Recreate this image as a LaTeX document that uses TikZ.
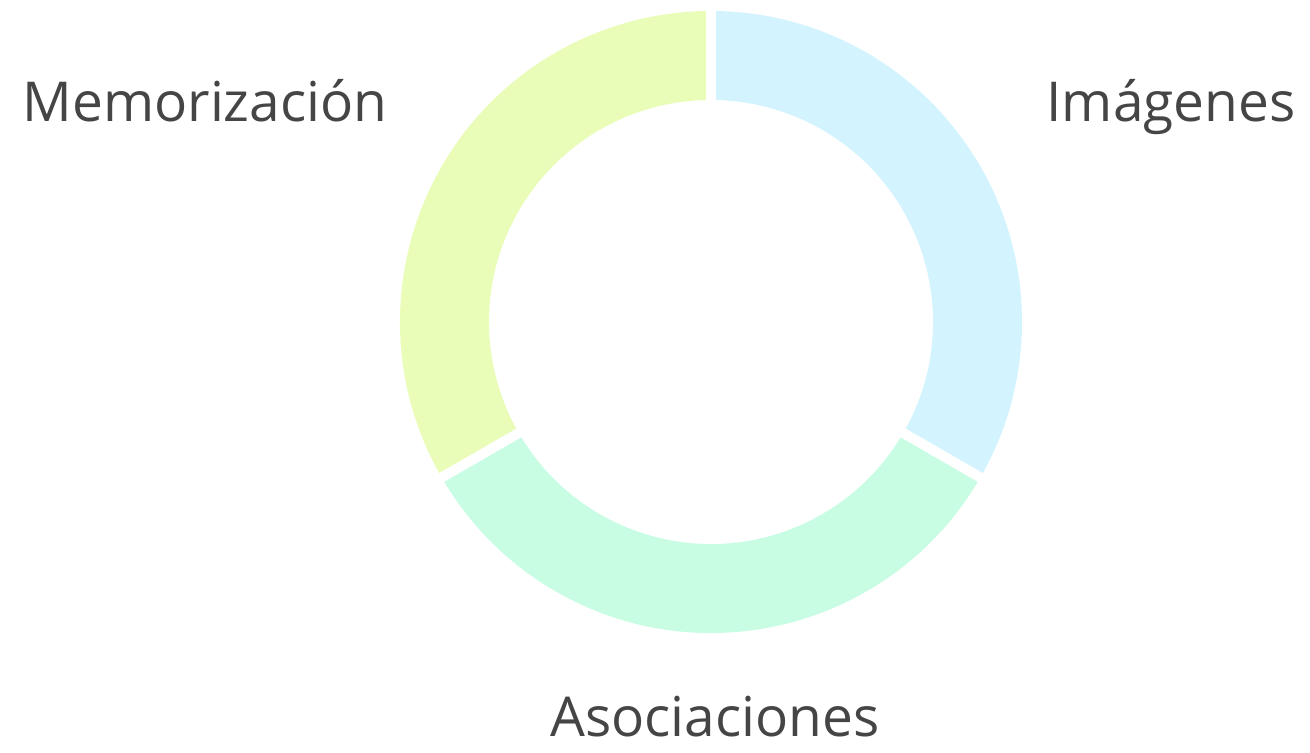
\documentclass[tikz,border=0pt]{standalone}
\usepackage{fontspec}
\setmainfont{Open Sans}
\usepackage{tikz}
\usetikzlibrary{positioning}

\definecolor{imgcol}{HTML}{D3F4FE}
\definecolor{asocol}{HTML}{C8FDE4}
\definecolor{memcol}{HTML}{E9FDB9}
\definecolor{txtcol}{HTML}{454545}

\tikzset{
  label/.style={text=txtcol, inner sep=0pt, anchor=base, font=\fontsize{27.5}{31}\selectfont},
  gap/.style={white, line width=5}
}

\begin{document}
\begin{tikzpicture}[x=0.5pt, y=0.5pt]
        \useasboundingbox (0,0) rectangle (1310,753);
          \begin{scope}[shift={(711,431)}]
            \foreach \a/\b/\c in {90/-30/imgcol, -30/-150/asocol, 210/90/memcol}{
              \fill[\c] (\a:311) arc[start angle=\a, end angle=\b, radius=311]
                -- (\b:222) arc[start angle=\b, end angle=\a, radius=222] -- cycle;
            }
            % white separators
            \foreach \a in {90,-30,210}{
              \draw[gap] (\a:215) -- (\a:318);
            }
          \end{scope}

          \node[label] (mem) at (205,631) {Memorización};
          \node[label] (img) at (1171,631) {Imágenes};
          \node[label] (aso) at (715,16) {Asociaciones};
        \end{tikzpicture}
\end{document}
